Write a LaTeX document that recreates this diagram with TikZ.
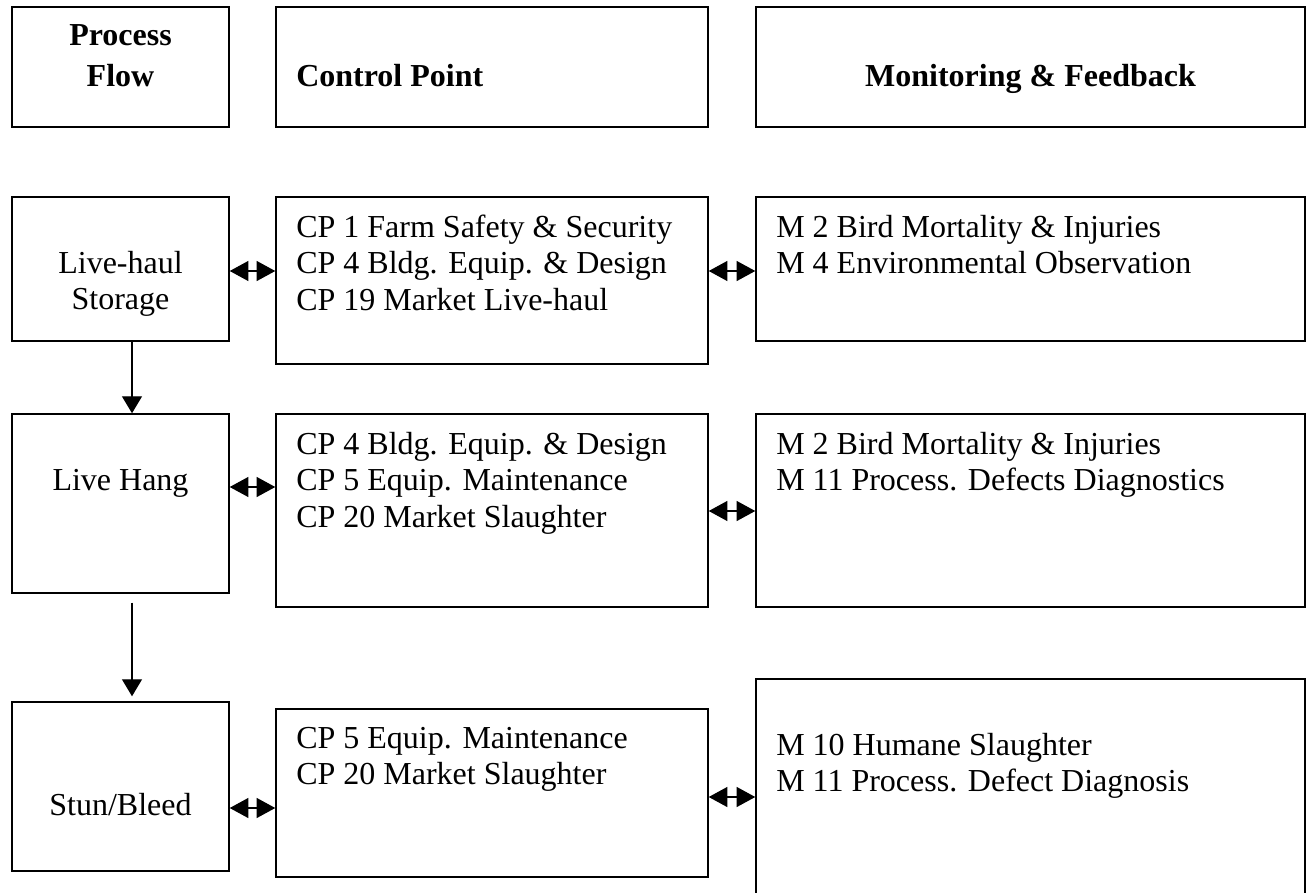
\documentclass[tikz,border=0pt]{standalone}
\usepackage{fontspec}
\setmainfont{Liberation Serif}
\usetikzlibrary{arrows.meta,fit}
\begin{document}
\begin{tikzpicture}[x=0.75pt,y=-0.75pt,
  box/.style={draw, line width=1.1pt, inner sep=0pt},
  txt/.style={inner sep=0pt, font=\fontsize{24}{28}\selectfont, anchor=base west},
  ctr/.style={txt, anchor=base},
  head/.style={inner sep=0pt, font=\fontsize{24}{28}\selectfont\bfseries},
  dbl/.style={line width=1pt,
    {Triangle[length=14pt,width=15pt]}-{Triangle[length=14pt,width=15pt]}},
  down/.style={line width=1pt, -{Triangle[length=12.75pt,width=15pt]}}]
\useasboundingbox[fill=white] (0,0) rectangle (1309,892);

% column headings
\node[box, fit={(12,7) (229,127)}] (hpf) {};
\node[box, fit={(276,7) (708,127)}] (hcp) {};
\node[box, fit={(756,7) (1305,127)}] (hmf) {};
\node[head, anchor=base] (hpf1) at (120.5,46) {Process};
\node[head, anchor=base] (hpf2) at (120.5,87) {Flow};
\node[head, anchor=base west] (hcpt) at (296,87) {Control Point};
\node[head, anchor=base] (hmft) at (1030.5,87) {Monitoring \& Feedback};

% row 1: live-haul storage
\node[box, fit={(12,197) (229,341)}] (ls) {};
\node[box, fit={(276,197) (708,364)}] (cp1) {};
\node[box, fit={(756,197) (1305,341)}] (m1) {};
\node[ctr] (ls1) at (120.5,273) {Live-haul};
\node[ctr] (ls2) at (120.5,309.7) {Storage};
\foreach \t [count=\i] in {CP 1 Farm Safety \& Security, CP 4 Bldg. Equip. \& Design, CP 19 Market Live-haul}
  \node[txt] (cpa\i) at (296,{237+(\i-1)*36.7}) {\t};
\foreach \t [count=\i] in {M 2 Bird Mortality \& Injuries, M 4 Environmental Observation}
  \node[txt] (ma\i) at (776,{237+(\i-1)*36.7}) {\t};

% row 2: live hang
\node[box, fit={(12,414) (229,593)}] (lh) {};
\node[box, fit={(276,414) (708,607)}] (cp2) {};
\node[box, fit={(756,414) (1305,607)}] (m2) {};
\node[ctr] (lh1) at (120.5,490) {Live Hang};
\foreach \t [count=\i] in {CP 4 Bldg. Equip. \& Design, CP 5 Equip. Maintenance, CP 20 Market Slaughter}
  \node[txt] (cpb\i) at (296,{454+(\i-1)*36.7}) {\t};
\foreach \t [count=\i] in {M 2 Bird Mortality \& Injuries, M 11 Process. Defects Diagnostics}
  \node[txt] (mb\i) at (776,{454+(\i-1)*36.7}) {\t};

% row 3: stun / bleed
\node[box, fit={(12,702) (229,871)}] (sb) {};
\node[box, fit={(276,709) (708,877)}] (cp3) {};
\node[box, fit={(756,679) (1305,900)}] (m3) {};
\node[ctr] (sb1) at (120.5,815) {Stun/Bleed};
\foreach \t [count=\i] in {CP 5 Equip. Maintenance, CP 20 Market Slaughter}
  \node[txt] (cpc\i) at (296,{748+(\i-1)*36.7}) {\t};
\foreach \t [count=\i] in {M 10 Humane Slaughter, M 11 Process. Defect Diagnosis}
  \node[txt] (mc\i) at (776,{755+(\i-1)*36.7}) {\t};

% two-way links between columns
\draw[dbl] (ls.east |- 0,271) -- (cp1.west |- 0,271);
\draw[dbl] (cp1.east |- 0,271) -- (m1.west |- 0,271);
\draw[dbl] (lh.east |- 0,487) -- (cp2.west |- 0,487);
\draw[dbl] (cp2.east |- 0,511) -- (m2.west |- 0,511);
\draw[dbl] (sb.east |- 0,808) -- (cp3.west |- 0,808);
\draw[dbl] (cp3.east |- 0,797) -- (m3.west |- 0,797);

% process flow
\draw[down] (ls.south -| 132,0) -- (lh.north -| 132,0);
\draw[down, shorten <=6.75pt, shorten >=3.75pt] (lh.south -| 132,0) -- (sb.north -| 132,0);
\end{tikzpicture}
\end{document}
